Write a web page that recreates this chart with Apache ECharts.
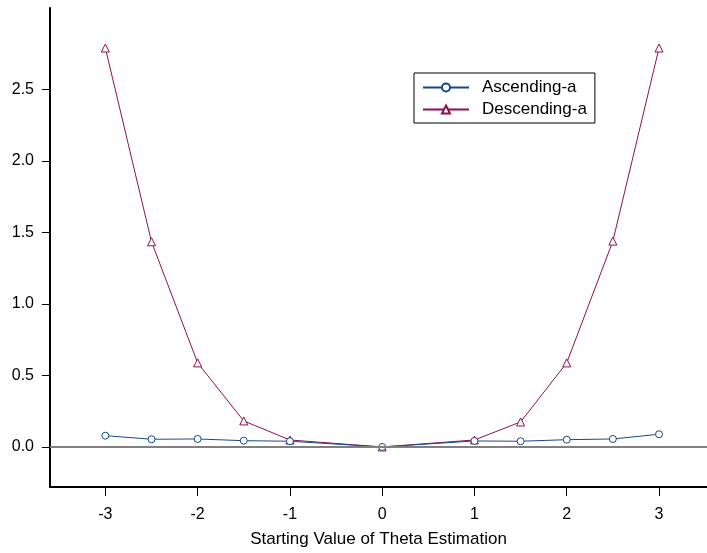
<!DOCTYPE html>
<html><head><meta charset="utf-8">
<script src="https://cdn.jsdelivr.net/npm/echarts@6/dist/echarts.min.js"></script>
<style>html,body{margin:0;padding:0;background:#fff}#c{width:707px;height:553px}</style>
</head><body><div id="c"></div>
<script>
const ascX = [-3, -2.5, -2, -1.5, -1, 0, 1, 1.5, 2, 2.5, 3];
const ascY = [0.079, 0.054, 0.056, 0.044, 0.040, 0.0, 0.042, 0.040, 0.051, 0.056, 0.089];
const descX = [-3, -2.5, -2, -1.5, -1, 0, 1, 1.5, 2, 2.5, 3];
const descY = [2.79, 1.435, 0.588, 0.182, 0.049, 0.0, 0.049, 0.175, 0.588, 1.44, 2.79];
const xTicks = [-3, -2, -1, 0, 1, 2, 3];
const yTicks = [0, 0.5, 1.0, 1.5, 2.0, 2.5];
const names = ['Ascending-a', 'Descending-a'];

const font = 'Liberation Sans, Arial, sans-serif';
const chart = echarts.init(document.getElementById('c'), null, {renderer: 'canvas'});
chart.setOption({
  animation: false,
  grid: {left: 50, top: 8, width: 659, height: 479, containLabel: false},
  legend: {
    orient: 'vertical', left: 414, top: 73,
    data: names,
    borderColor: '#000', borderWidth: 1, borderRadius: 0,
    padding: [6, 8, 5, 8], itemGap: 5,
    itemWidth: 46, itemHeight: 10,
    textStyle: {fontFamily: font, fontSize: 17, color: '#000', padding: [0, 0, 0, 8]},
    backgroundColor: '#fff'
  },
  xAxis: {
    type: 'value', min: -3.6, max: 3.52,
    axisLine: {show: true, onZero: false, lineStyle: {color: '#000', width: 2}},
    axisTick: {show: true, length: 9, lineStyle: {color: '#000', width: 1}, customValues: xTicks},
    axisLabel: {customValues: xTicks, fontFamily: font, fontSize: 16, color: '#000', margin: 20},
    splitLine: {show: false},
    name: 'Starting Value of Theta Estimation', nameLocation: 'middle', nameGap: 44,
    nameTextStyle: {fontFamily: font, fontSize: 17, color: '#000'}
  },
  yAxis: {
    type: 'value', min: -0.28, max: 3.07,
    axisLine: {show: true, onZero: false, lineStyle: {color: '#000', width: 2}},
    axisTick: {show: true, length: 8, lineStyle: {color: '#000', width: 1}, customValues: yTicks},
    axisLabel: {customValues: yTicks, fontFamily: font, fontSize: 16, color: '#000', margin: 16,
      formatter: v => v.toFixed(1)},
    splitLine: {show: false}
  },
  series: [
    {
      type: 'line', name: '_zero', data: [], silent: true, z: 1,
      markLine: {silent: true, symbol: 'none', label: {show: false},
        lineStyle: {color: '#808080', width: 2, type: 'solid'},
        data: [{yAxis: 0}]}
    },
    {
      type: 'line', name: names[0], z: 3,
      data: ascX.map((x, i) => [x, ascY[i]]),
      symbol: 'circle', symbolSize: 7,
      lineStyle: {color: '#14498a', width: 1},
      itemStyle: {color: '#fff', borderColor: '#14498a', borderWidth: 1},
      color: '#14498a'
    },
    {
      type: 'line', name: names[1], z: 2,
      data: descX.map((x, i) => [x, descY[i]]),
      symbol: 'triangle', symbolSize: 8,
      lineStyle: {color: '#8c1150', width: 1},
      itemStyle: {color: '#fff', borderColor: '#8c1150', borderWidth: 1},
      color: '#8c1150'
    }
  ]
});
</script></body></html>
